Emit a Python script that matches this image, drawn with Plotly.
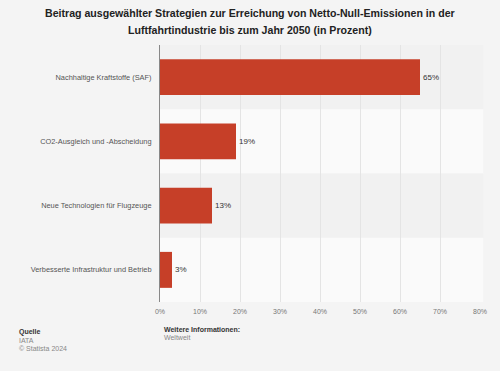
import plotly.graph_objects as go

categories = ["Nachhaltige Kraftstoffe (SAF)", "CO2-Ausgleich und -Abscheidung",
              "Neue Technologien für Flugzeuge", "Verbesserte Infrastruktur und Betrieb"]
values = [65, 19, 13, 3]
tick_vals = [0, 10, 20, 30, 40, 50, 60, 70, 80]
tick_text = [f"{v}%" for v in tick_vals]
title_lines = ["Beitrag ausgewählter Strategien zur Erreichung von Netto-Null-Emissionen in der",
               "Luftfahrtindustrie bis zum Jahr 2050 (in Prozent)"]

bg = "#f4f4f4"
FONT = "Liberation Sans, Arial, Helvetica, sans-serif"
W, H = 500, 371
ML, MR, MT, MB = 160, 20, 45, 69
fig = go.Figure()
fig.add_trace(go.Bar(
    y=categories, x=values, orientation="h",
    marker=dict(color="#c63f28", line=dict(width=0)),
    text=[f"{v}%" for v in values], textposition="outside",
    textfont=dict(size=8, color="#333333", family=FONT),
    cliponaxis=False, width=0.56,
))

# alternating row bands
shapes = []
for i, c in enumerate(categories):
    shapes.append(dict(type="rect", xref="paper", yref="y", x0=0, x1=1.01,
                       y0=i - 0.5, y1=i + 0.5, layer="below", line=dict(width=0),
                       fillcolor="#f1f1f1" if i % 2 == 0 else "#fafafa"))
fig.update_layout(shapes=shapes)

fig.update_layout(
    template="none",
    width=W, height=H,
    paper_bgcolor=bg, plot_bgcolor=bg,
    margin=dict(l=ML, r=MR, t=MT, b=MB, autoexpand=False),
    showlegend=False,
    xaxis=dict(range=[0, 80], tickvals=tick_vals, ticktext=tick_text,
               showgrid=True, gridcolor="#e4e4e4", gridwidth=1, showline=False,
               zeroline=False, tickfont=dict(size=7, color="#777777", family=FONT),
               ticks="", ticklen=0, ticklabelstandoff=4, fixedrange=True, automargin=False),
    yaxis=dict(tickfont=dict(size=7.4, color="#555555", family=FONT), showgrid=False,
               showline=True, linecolor="#888888", linewidth=1, ticks="", ticklen=0,
               zeroline=False,
               ticklabelstandoff=6, autorange=False, range=[3.5, -0.5], automargin=False),
    font=dict(family=FONT),
)

def px_x(x):
    return (x - ML) / (W - ML - MR)

def px_y(y):
    return (H - MB - y) / (H - MT - MB)

for line, yy in zip(title_lines, [13, 30]):
    fig.add_annotation(text=f"<b>{line}</b>", xref="paper", yref="paper",
                       x=px_x(250), y=px_y(yy), xanchor="center", yanchor="middle",
                       showarrow=False, font=dict(size=10.6, color="#222222", family=FONT))

ann = [
    dict(text="<b>Quelle</b>", x=17, y=332, color="#333333"),
    dict(text="IATA", x=17, y=340, color="#888888"),
    dict(text="© Statista 2024", x=17, y=348, color="#888888"),
    dict(text="<b>Weitere Informationen:</b>", x=162, y=329, color="#333333"),
    dict(text="Weltweit", x=162, y=337, color="#888888"),
]
for a in ann:
    fig.add_annotation(text=a["text"], xref="paper", yref="paper",
                       x=px_x(a["x"]), y=px_y(a["y"]),
                       xanchor="left", yanchor="middle", showarrow=False,
                       font=dict(size=7, color=a["color"], family=FONT))

fig.write_html("out.html", config={"staticPlot": True},
               post_script="document.body.style.margin='0';document.body.style.overflow='hidden';")
